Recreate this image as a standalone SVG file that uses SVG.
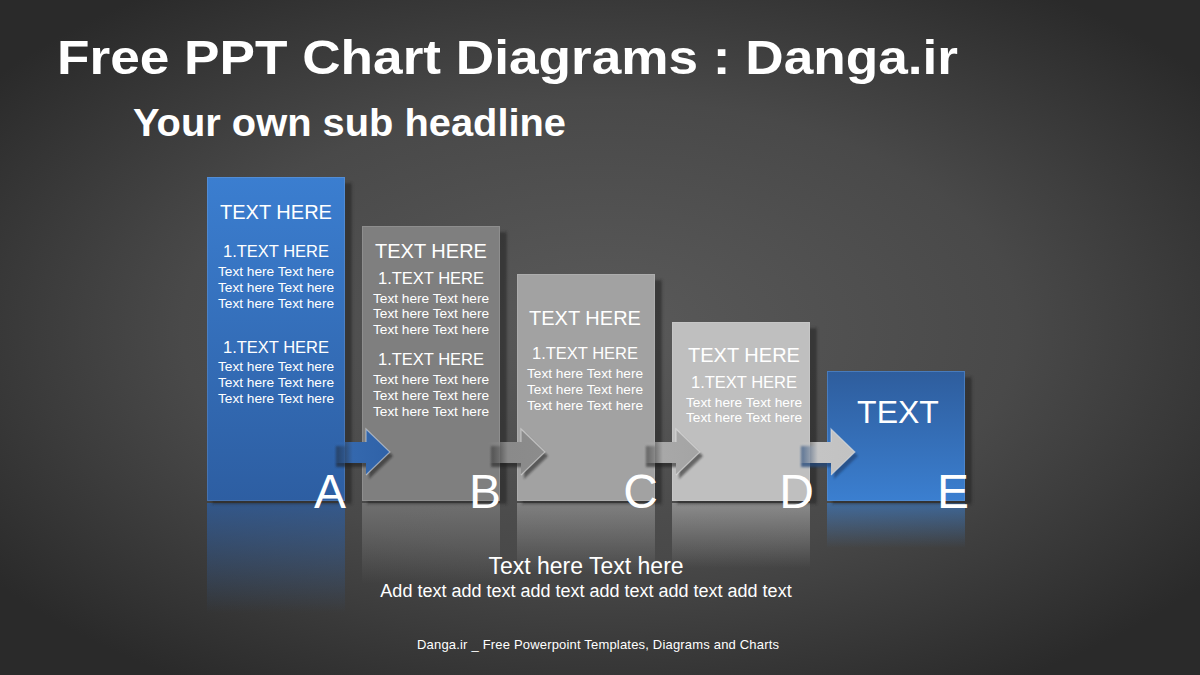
<svg xmlns="http://www.w3.org/2000/svg" width="1200" height="675" viewBox="0 0 1200 675">
<defs>
<radialGradient id="bg" gradientUnits="userSpaceOnUse" cx="600" cy="330" r="760" gradientTransform="translate(600 330) scale(1 0.55) translate(-600 -330)">
<stop offset="0" stop-color="#5a5a5a"/>
<stop offset="0.55" stop-color="#494949"/>
<stop offset="1" stop-color="#2a2a2a"/>
</radialGradient>
<linearGradient id="blueA" x1="0" y1="0" x2="0" y2="1">
<stop offset="0" stop-color="#3b7ed0"/>
<stop offset="1" stop-color="#2d5ea2"/>
</linearGradient>
<linearGradient id="blueE" x1="0" y1="0" x2="0" y2="1">
<stop offset="0" stop-color="#2e5d9d"/>
<stop offset="1" stop-color="#3b7fd0"/>
</linearGradient>
<linearGradient id="reflA" x1="0" y1="0" x2="0" y2="1">
<stop offset="0" stop-color="#2d5ea2" stop-opacity="0.75"/>
<stop offset="1" stop-color="#2d5ea2" stop-opacity="0"/>
</linearGradient>
<linearGradient id="reflE" x1="0" y1="0" x2="0" y2="1">
<stop offset="0" stop-color="#3b7fd0" stop-opacity="0.6"/>
<stop offset="1" stop-color="#3b7fd0" stop-opacity="0"/>
</linearGradient>
<linearGradient id="reflB" x1="0" y1="0" x2="0" y2="1">
<stop offset="0" stop-color="#7f7f7f" stop-opacity="0.7"/>
<stop offset="1" stop-color="#7f7f7f" stop-opacity="0"/>
</linearGradient>
<linearGradient id="reflC" x1="0" y1="0" x2="0" y2="1">
<stop offset="0" stop-color="#a2a2a2" stop-opacity="0.6"/>
<stop offset="1" stop-color="#a2a2a2" stop-opacity="0"/>
</linearGradient>
<linearGradient id="reflD" x1="0" y1="0" x2="0" y2="1">
<stop offset="0" stop-color="#bfbfbf" stop-opacity="0.55"/>
<stop offset="1" stop-color="#bfbfbf" stop-opacity="0"/>
</linearGradient>
<linearGradient id="arrA" x1="0" y1="0" x2="1" y2="0">
<stop offset="0" stop-color="#3468ae" stop-opacity="0"/>
<stop offset="0.35" stop-color="#3468ae" stop-opacity="1"/>
<stop offset="1" stop-color="#2f62a8"/>
</linearGradient>
<linearGradient id="arrB" x1="0" y1="0" x2="1" y2="0">
<stop offset="0" stop-color="#8a8a8a" stop-opacity="0"/>
<stop offset="0.35" stop-color="#8a8a8a" stop-opacity="1"/>
<stop offset="1" stop-color="#8c8c8c"/>
</linearGradient>
<linearGradient id="arrC" x1="0" y1="0" x2="1" y2="0">
<stop offset="0" stop-color="#a8a8a8" stop-opacity="0"/>
<stop offset="0.35" stop-color="#a8a8a8" stop-opacity="1"/>
<stop offset="1" stop-color="#a4a4a4"/>
</linearGradient>
<linearGradient id="arrD" x1="0" y1="0" x2="1" y2="0">
<stop offset="0" stop-color="#c4c4c4" stop-opacity="0"/>
<stop offset="0.35" stop-color="#c4c4c4" stop-opacity="1"/>
<stop offset="1" stop-color="#c2c2c2"/>
</linearGradient>
<filter id="blur" x="-20%" y="-20%" width="140%" height="140%"><feGaussianBlur stdDeviation="1.5"/></filter>
<filter id="ablur" x="-20%" y="-20%" width="140%" height="140%"><feGaussianBlur stdDeviation="1"/></filter>
<path id="arrow" d="M0,13 H33 V0 L57,23 L33,46 V34 H0 Z"/>
</defs>
<style>
text{font-family:"Liberation Sans",Arial,sans-serif;fill:#ffffff;}
.title{font-weight:bold;font-size:49px;}
.sub{font-weight:bold;font-size:38px;}
.h{font-size:20px;text-anchor:middle;}
.n{font-size:16.5px;text-anchor:middle;}
.t{font-size:13.7px;text-anchor:middle;}
.letter{font-size:48px;text-anchor:end;}
.shadow{fill:#222222;opacity:0.55;filter:url(#blur);}
.edge{fill:none;stroke:#ffffff;stroke-opacity:0.12;stroke-width:1;}
.ashadow{fill:#1e1e1e;opacity:0.55;filter:url(#ablur);}
.astroke{fill:none;stroke:#e8e8e8;stroke-opacity:0.55;stroke-width:1.2;}
</style>
<rect width="1200" height="675" fill="url(#bg)"/>
<text class="title" x="57" y="74" textLength="901" lengthAdjust="spacingAndGlyphs">Free PPT Chart Diagrams : Danga.ir</text>
<text class="sub" x="133" y="136" textLength="433" lengthAdjust="spacingAndGlyphs">Your own sub headline</text>

<g id="reflections">
<rect x="207" y="503" width="138" height="110" fill="url(#reflA)"/>
<rect x="362" y="503" width="138" height="80" fill="url(#reflB)"/>
<rect x="517" y="503" width="138" height="70" fill="url(#reflC)"/>
<rect x="672" y="503" width="138" height="65" fill="url(#reflD)"/>
<rect x="827" y="503" width="138" height="45" fill="url(#reflE)"/>
</g>

<g id="node-A">
<rect class="shadow" x="212" y="183" width="140" height="321"/>
<rect x="207" y="177" width="138" height="324" fill="url(#blueA)"/>
<rect class="edge" x="207.5" y="177.5" width="137" height="323"/>
<text class="h" x="276" y="219">TEXT HERE</text>
<text class="n" x="276" y="257">1.TEXT HERE</text>
<text class="t" x="276" y="276">Text here Text here</text>
<text class="t" x="276" y="292">Text here Text here</text>
<text class="t" x="276" y="308">Text here Text here</text>
<text class="n" x="276" y="353">1.TEXT HERE</text>
<text class="t" x="276" y="371">Text here Text here</text>
<text class="t" x="276" y="387">Text here Text here</text>
<text class="t" x="276" y="403">Text here Text here</text>
</g>

<g id="node-B">
<rect class="shadow" x="367" y="232" width="140" height="272"/>
<rect x="362" y="226" width="138" height="275" fill="#7f7f7f"/>
<rect class="edge" x="362.5" y="226.5" width="137" height="274"/>
<text class="h" x="431" y="258">TEXT HERE</text>
<text class="n" x="431" y="284">1.TEXT HERE</text>
<text class="t" x="431" y="303">Text here Text here</text>
<text class="t" x="431" y="318">Text here Text here</text>
<text class="t" x="431" y="334">Text here Text here</text>
<text class="n" x="431" y="365">1.TEXT HERE</text>
<text class="t" x="431" y="384">Text here Text here</text>
<text class="t" x="431" y="400">Text here Text here</text>
<text class="t" x="431" y="416">Text here Text here</text>
</g>

<g id="node-C">
<rect class="shadow" x="522" y="280" width="140" height="224"/>
<rect x="517" y="274" width="138" height="227" fill="#a2a2a2"/>
<rect class="edge" x="517.5" y="274.5" width="137" height="226"/>
<text class="h" x="585" y="325">TEXT HERE</text>
<text class="n" x="585" y="359">1.TEXT HERE</text>
<text class="t" x="585" y="378">Text here Text here</text>
<text class="t" x="585" y="394">Text here Text here</text>
<text class="t" x="585" y="410">Text here Text here</text>
</g>

<g id="node-D">
<rect class="shadow" x="677" y="328" width="140" height="176"/>
<rect x="672" y="322" width="138" height="179" fill="#bfbfbf"/>
<rect class="edge" x="672.5" y="322.5" width="137" height="178"/>
<text class="h" x="744" y="362">TEXT HERE</text>
<text class="n" x="744" y="388">1.TEXT HERE</text>
<text class="t" x="744" y="407">Text here Text here</text>
<text class="t" x="744" y="422">Text here Text here</text>
</g>

<g id="node-E">
<rect class="shadow" x="832" y="377" width="140" height="127"/>
<rect x="827" y="371" width="138" height="130" fill="url(#blueE)"/>
<rect x="827.5" y="371.5" width="137" height="129" fill="none" stroke="#5a8fd0" stroke-opacity="0.6"/>
<text x="898" y="423" font-size="32" text-anchor="middle">TEXT</text>
</g>

<g id="connectors">
<g transform="translate(333 429)">
<use href="#arrow" class="ashadow" x="3" y="4"/>
<use href="#arrow" fill="url(#arrA)"/>
<path class="astroke" d="M33,13 V0 L57,23 L33,46"/>
</g>
<g transform="translate(488 429)">
<use href="#arrow" class="ashadow" x="3" y="4"/>
<use href="#arrow" fill="url(#arrB)"/>
<path class="astroke" d="M33,13 V0 L57,23 L33,46"/>
</g>
<g transform="translate(643 429)">
<use href="#arrow" class="ashadow" x="3" y="4"/>
<use href="#arrow" fill="url(#arrC)"/>
<path class="astroke" d="M33,13 V0 L57,23 L33,46"/>
</g>
<g transform="translate(798 429)">
<use href="#arrow" x="3" y="4" fill="#23477a" opacity="0.75" filter="url(#ablur)"/>
<use href="#arrow" fill="url(#arrD)"/>
<path class="astroke" d="M33,13 V0 L57,23 L33,46"/>
</g>
</g>

<g id="letters">
<text class="letter" x="346" y="508">A</text>
<text class="letter" x="501" y="508">B</text>
<text class="letter" x="658" y="508">C</text>
<text class="letter" x="814" y="508">D</text>
<text class="letter" x="969" y="508">E</text>
</g>

<text x="586" y="574" font-size="23" text-anchor="middle">Text here Text here</text>
<text x="586" y="597" font-size="18" text-anchor="middle">Add text add text add text add text add text add text</text>
<text x="598" y="649" font-size="13" text-anchor="middle" textLength="362" lengthAdjust="spacing">Danga.ir _ Free Powerpoint Templates, Diagrams and Charts</text>
</svg>
